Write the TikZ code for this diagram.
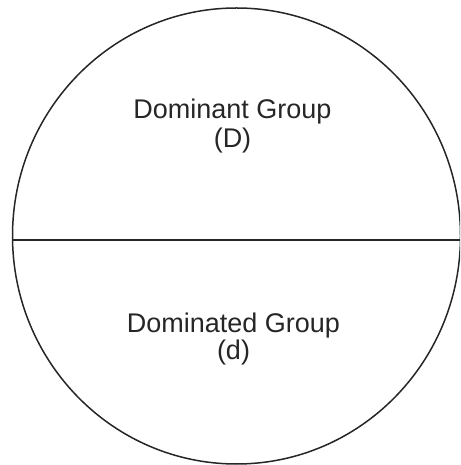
\documentclass[tikz,border=0pt]{standalone}
\usepackage{fontspec}
\setmainfont{Liberation Sans}
\begin{document}
\begin{tikzpicture}[x=1pt,y=1pt,
  lbl/.style={anchor=base,font=\fontsize{27}{30}\selectfont,text=black!85,inner sep=0pt}]
\useasboundingbox (0,0) rectangle (460,465);
\clip (0,0) rectangle (460,465);
\draw[line width=1.5pt,black!85] (236.5,229) ellipse [x radius=224, y radius=228];
\coordinate (L) at (13,225);
\coordinate (R) at (460,225);
\draw[line width=1.5pt,black!85] (L) -- (R);
\node[lbl] (dom1) at (232.5,346) {Dominant Group};
\node[lbl] (dom2) at (232.5,317) {(D)};
\node[lbl] (sub1) at (233.5,132) {Dominated Group};
\node[lbl] (sub2) at (233.5,105) {(d)};
\end{tikzpicture}
\end{document}
